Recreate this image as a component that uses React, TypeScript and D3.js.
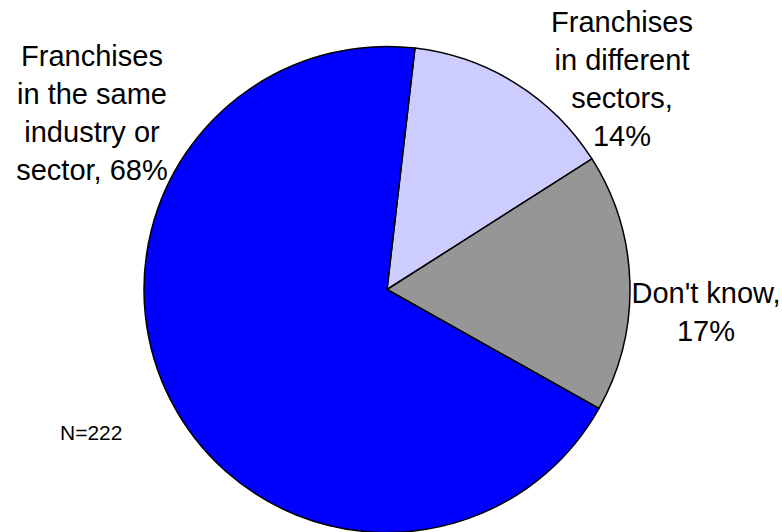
import React from "react";
import * as d3 from "d3";

const categories = ["Franchises in different sectors", "Don't know", "Franchises in the same industry or sector"];
const values = [14, 17, 68];
const colors = ["#CCCCFF", "#969696", "#0000FF"];
const labelLines = [
  ["Franchises", "in different", "sectors,", "14%"],
  ["Don't know,", "17%"],
  ["Franchises", "in the same", "industry or", "sector, 68%"],
];
const note = "N=222";

const W = 782;
const H = 532;
const cx = 387;
const cy = 289.5;
const R = 243;
const startDeg = 6.6;

// label anchor positions (center x, first baseline y)
const labelPos = [
  { x: 622, y: 32 },
  { x: 706, y: 303 },
  { x: 92, y: 66 },
];

export default function App() {
  const start = (startDeg * Math.PI) / 180;
  const pie = d3
    .pie<number>()
    .sort(null)
    .value((d) => d)
    .startAngle(start)
    .endAngle(start + 2 * Math.PI);
  const arcs = pie(values);
  const arc = d3.arc<d3.PieArcDatum<number>>().innerRadius(0).outerRadius(R);

  return (
    <svg
      width={W}
      height={H}
      style={{ position: "absolute", left: 0, top: 0, background: "#fff" }}
      fontFamily="'Liberation Sans', Arial, sans-serif"
    >
      <g transform={`translate(${cx},${cy})`}>
        {arcs.map((a, i) => (
          <path
            key={categories[i]}
            d={arc(a) || ""}
            fill={colors[i]}
            stroke="#000"
            strokeWidth={1.5}
            strokeLinejoin="round"
          />
        ))}
      </g>
      {labelLines.map((lines, i) => (
        <text key={i} textAnchor="middle" fontSize={29} fill="#000">
          {lines.map((ln, j) => (
            <tspan key={j} x={labelPos[i].x} y={labelPos[i].y + j * 38}>
              {ln}
            </tspan>
          ))}
        </text>
      ))}
      <text x={60} y={440} fontSize={21} fill="#000">
        {note}
      </text>
    </svg>
  );
}
